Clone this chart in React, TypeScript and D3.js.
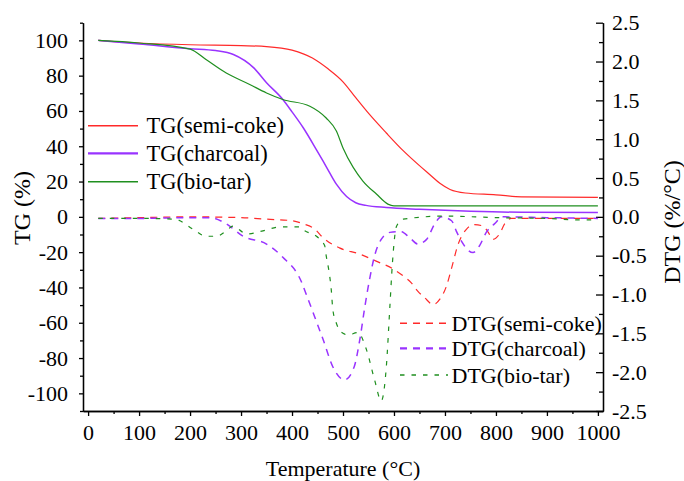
import React, { useEffect, useRef } from 'react';
import * as d3 from 'd3';

// TG curves (left axis, %)
const tgSemiT = [20, 100, 200, 300, 350, 400, 440, 470, 500, 525, 552, 585, 618, 650, 670, 690, 710, 740, 800, 850, 1000];
const tgSemi = [100, 98.5, 97.5, 97, 96.5, 94.5, 90, 84, 76.5, 67.5, 58, 47.5, 37.5, 29, 24, 19, 15.5, 13.5, 12.5, 11.3, 11];

const tgCharT = [20, 100, 200, 250, 285, 325, 350, 382, 400, 422, 448, 467, 487, 507, 525, 545, 585, 650, 750, 850, 1000];
const tgChar = [100, 98, 95.3, 94.2, 92, 84.4, 76, 66.5, 59.5, 50.5, 38, 28.5, 18.5, 11.5, 8, 6.5, 5.3, 4.3, 3.2, 2.6, 2.5];

const tgTarT = [20, 100, 200, 232, 271, 317, 350, 382, 435, 467, 487, 500, 520, 539, 566, 588, 600, 700, 1000];
const tgTar = [100, 98.5, 95, 89, 81.5, 75, 70.2, 66.5, 62.7, 56, 48.6, 39, 28, 20.3, 12.8, 7.2, 6.2, 6.2, 6.2];

// DTG curves (right axis, %/°C)
const dtgSemiT = [20, 100, 200, 300, 350, 400, 422, 445, 461, 493, 533, 565, 598, 618, 634, 647, 660, 677, 690, 703, 713, 726, 742, 758, 775, 785, 794, 807, 817, 830, 900, 1000];
const dtgSemi = [-0.02, -0.01, 0, -0.01, -0.03, -0.05, -0.09, -0.16, -0.27, -0.4, -0.48, -0.57, -0.67, -0.76, -0.85, -0.96, -1.04, -1.13, -1.06, -0.89, -0.66, -0.35, -0.16, -0.1, -0.12, -0.2, -0.29, -0.22, -0.09, -0.02, -0.02, -0.02];

const dtgCharT = [20, 100, 200, 240, 271, 304, 350, 382, 418, 428, 444, 461, 480, 503, 522, 533, 543, 552, 562, 575, 592, 614, 631, 647, 664, 680, 693, 713, 722, 732, 755, 768, 781, 797, 814, 900, 1000];
const dtgChar = [-0.02, -0.02, -0.01, -0.01, -0.09, -0.25, -0.35, -0.52, -0.83, -1.0, -1.28, -1.58, -1.93, -2.1, -1.93, -1.58, -1.15, -0.81, -0.5, -0.29, -0.2, -0.19, -0.27, -0.35, -0.29, -0.09, 0, -0.05, -0.18, -0.31, -0.46, -0.37, -0.2, -0.09, 0, -0.01, -0.02];

const dtgTarT = [20, 100, 170, 206, 232, 252, 271, 284, 311, 343, 376, 415, 425, 448, 464, 467, 472, 477, 480, 487, 500, 510, 529, 546, 562, 575, 585, 592, 597, 605, 618, 700, 800, 900, 960, 1000];
const dtgTar = [-0.02, -0.02, -0.03, -0.16, -0.25, -0.25, -0.18, -0.12, -0.22, -0.18, -0.13, -0.13, -0.18, -0.25, -0.37, -0.5, -0.68, -0.94, -1.19, -1.37, -1.5, -1.52, -1.49, -1.71, -2.1, -2.37, -1.93, -1.15, -0.59, -0.12, -0.03, 0.01, -0.01, -0.02, -0.04, -0.04];

const tgNames = ['TG(semi-coke)', 'TG(charcoal)', 'TG(bio-tar)'];
const dtgNames = ['DTG(semi-coke)', 'DTG(charcoal)', 'DTG(bio-tar)'];

const xTicks = [0, 100, 200, 300, 400, 500, 600, 700, 800, 900, 1000];
const leftTicks = [-100, -80, -60, -40, -20, 0, 20, 40, 60, 80, 100];
const rightTicks = [-2.5, -2.0, -1.5, -1.0, -0.5, 0.0, 0.5, 1.0, 1.5, 2.0, 2.5];

const colors = ['#ff2a2a', '#9933ff', '#1f8f1f'];
const widths = [1.2, 1.5, 1.2];
const dashes = ['7,6', '7,6', '4.5,7'];
const font = "'Liberation Serif', 'Times New Roman', Times, serif";

const zip = (t: number[], v: number[]) => t.map((d, i) => [d, v[i]] as [number, number]);

export default function App() {
  const ref = useRef<SVGSVGElement>(null);

  useEffect(() => {
    const svg = d3.select(ref.current);
    svg.selectAll('*').remove();

    const left = 83, right = 603, top = 22.7, bottom = 411;
    const x = d3.scaleLinear().domain([-10, 1010]).range([left, right]);
    const yL = d3.scaleLinear().domain([-110, 110]).range([bottom, top]);
    const yR = d3.scaleLinear().domain([-2.5, 2.5]).range([bottom, top]);

    const styleAxis = (g: any) => {
      g.attr('font-family', null).attr('font-size', null);
      g.selectAll('path, line').attr('stroke', '#000').attr('stroke-width', 1.3);
      g.selectAll('text').attr('fill', '#000').style('font-family', font).style('font-size', '22px');
    };

    // minor ticks
    svg.append('g').attr('transform', `translate(0,${bottom})`)
      .call(d3.axisBottom(x).tickValues(d3.range(50, 1001, 100)).tickSize(3).tickSizeOuter(0).tickFormat(() => ''))
      .call(styleAxis);
    svg.append('g').attr('transform', `translate(${left},0)`)
      .call(d3.axisLeft(yL).tickValues(d3.range(-110, 111, 20)).tickSize(3).tickSizeOuter(0).tickFormat(() => ''))
      .call(styleAxis);
    svg.append('g').attr('transform', `translate(${right},0)`)
      .call(d3.axisRight(yR).tickValues(d3.range(-2.25, 2.5, 0.5)).tickSize(-4).tickSizeOuter(0).tickFormat(() => ''))
      .call(styleAxis);

    // major ticks
    svg.append('g').attr('transform', `translate(0,${bottom})`)
      .call(d3.axisBottom(x).tickValues(xTicks).tickSize(5).tickSizeOuter(0).tickPadding(8.4).tickFormat((d: any) => String(d)))
      .call(styleAxis);
    svg.append('g').attr('transform', `translate(${left},0)`)
      .call(d3.axisLeft(yL).tickValues(leftTicks).tickSize(4).tickSizeOuter(0).tickPadding(11).tickFormat((d: any) => String(d)))
      .call(styleAxis);
    svg.append('g').attr('transform', `translate(${right},0)`)
      .call(d3.axisRight(yR).tickValues(rightTicks).tickSize(-7).tickSizeOuter(0).tickPadding(9).tickFormat((d: any) => d.toFixed(1)))
      .call(styleAxis);

    // curves
    const lineL = d3.line<[number, number]>().x(d => x(d[0])).y(d => yL(d[1])).curve(d3.curveMonotoneX);
    const lineR = d3.line<[number, number]>().x(d => x(d[0])).y(d => yR(d[1])).curve(d3.curveMonotoneX);

    const tg = [zip(tgSemiT, tgSemi), zip(tgCharT, tgChar), zip(tgTarT, tgTar)];
    const dtg = [zip(dtgSemiT, dtgSemi), zip(dtgCharT, dtgChar), zip(dtgTarT, dtgTar)];

    tg.forEach((s, i) => {
      svg.append('path').attr('d', lineL(s)).attr('fill', 'none')
        .attr('stroke', colors[i]).attr('stroke-width', widths[i]);
    });
    dtg.forEach((s, i) => {
      svg.append('path').attr('d', lineR(s)).attr('fill', 'none')
        .attr('stroke', colors[i]).attr('stroke-width', widths[i]).attr('stroke-dasharray', dashes[i]);
    });

    const addText = (sel: any, size: number) =>
      sel.style('font-family', font).style('font-size', size + 'px').attr('fill', '#000');

    // legends
    const leg1Y = [125.7, 153.3, 181.7];
    tgNames.forEach((n, i) => {
      svg.append('line').attr('x1', 88).attr('x2', 138).attr('y1', leg1Y[i]).attr('y2', leg1Y[i])
        .attr('stroke', colors[i]).attr('stroke-width', i === 1 ? 2.2 : 1.5);
      addText(svg.append('text').attr('x', 146.5).attr('y', leg1Y[i] + 7.5).text(n), 22.5);
    });
    const leg2Y = [323.3, 348.3, 375];
    dtgNames.forEach((n, i) => {
      svg.append('line').attr('x1', 400).attr('x2', 448).attr('y1', leg2Y[i]).attr('y2', leg2Y[i])
        .attr('stroke', colors[i]).attr('stroke-width', i === 1 ? 2.2 : 1.5).attr('stroke-dasharray', dashes[i]);
      addText(svg.append('text').attr('x', 451.5).attr('y', leg2Y[i] + 7.5).text(n), 22);
    });

    // axis titles
    addText(svg.append('text').attr('x', 343).attr('y', 476).attr('text-anchor', 'middle')
      .text('Temperature (°C)'), 22);
    addText(svg.append('text').attr('transform', 'translate(30,208) rotate(-90)').attr('text-anchor', 'middle')
      .text('TG (%)'), 24);
    addText(svg.append('text').attr('transform', 'translate(680,222) rotate(-90)').attr('text-anchor', 'middle')
      .text('DTG (%/°C)'), 24);
  }, []);

  return (
    <svg ref={ref} width={684} height={481}
      style={{ position: 'absolute', left: 0, top: 0, background: '#fff' }} />
  );
}
